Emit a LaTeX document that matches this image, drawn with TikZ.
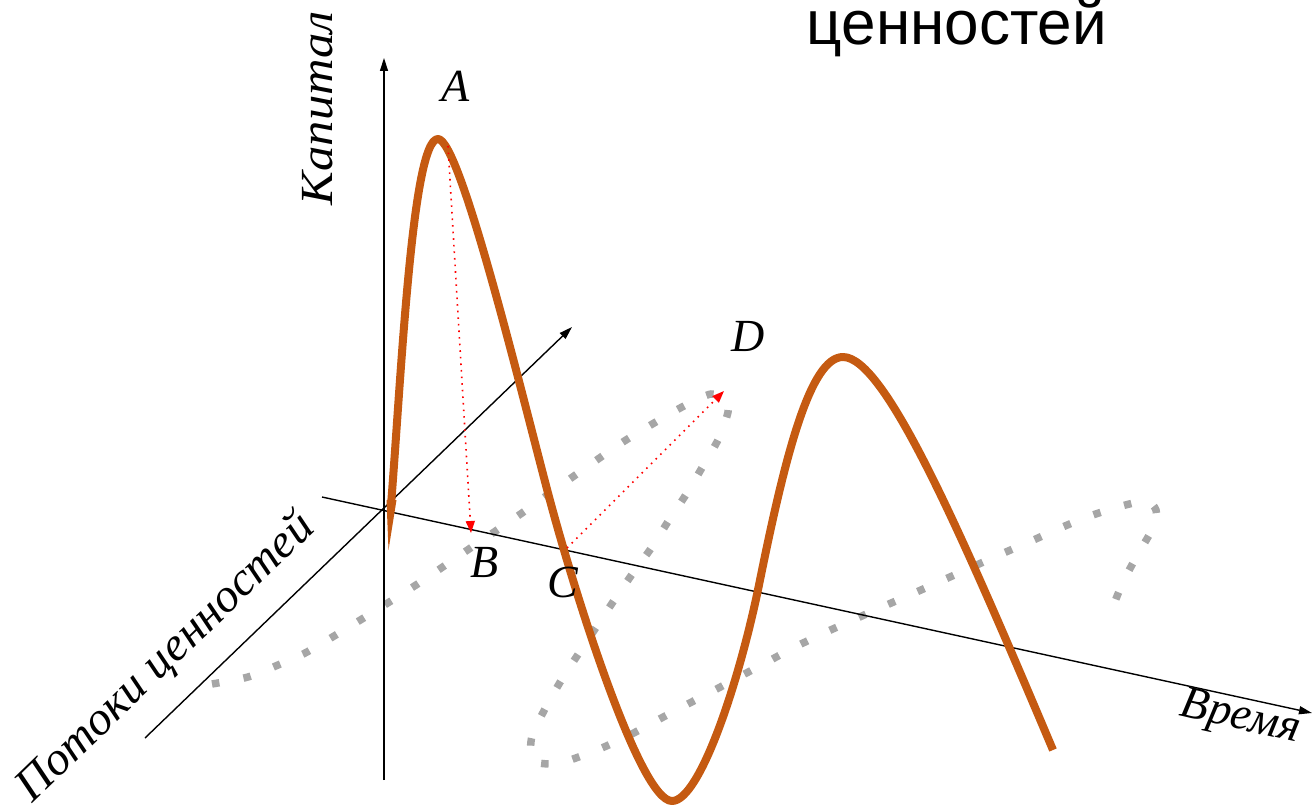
\documentclass[tikz,border=0pt]{standalone}
\usepackage{fontspec}
\setmainfont{Liberation Serif}
\newfontfamily\arialfont{Liberation Sans}
\usetikzlibrary{arrows.meta}
\definecolor{curveorange}{HTML}{C55A11}
\definecolor{dotgray}{HTML}{A6A6A6}
\tikzset{
  axisline/.style={line width=1.4pt, black, -{Triangle[length=13pt,width=8pt]}},
  redarrow/.style={red, line width=1.6pt, dash pattern=on 1.6pt off 5pt, -{Triangle[length=12pt,width=9pt]}},
  lbl/.style={font=\fontsize{46}{50}\selectfont\itshape, inner sep=0pt},
  capital/.style={curveorange, line width=8pt, line join=round},
  flow/.style={dotgray, line width=7.5pt, dash pattern=on 7.5pt off 24.5pt}
}
\begin{document}
\begin{tikzpicture}[x=1pt,y=-1pt]
\useasboundingbox (0,0) rectangle (1312,808);
% title fragment
\node[font=\arialfont\fontsize{62}{66}\selectfont, anchor=base, inner sep=0pt] (title) at (957,45) {ценностей};
% axis end points
\coordinate (vbot) at (384,780);
\coordinate (vtop) at (384,58);
\coordinate (tstart) at (322,497);
\coordinate (tend) at (1312,713);
\coordinate (dstart) at (145,738);
\coordinate (dend) at (572,327);
% gray dotted value-flow curve
\draw[flow] plot[smooth, tension=0.45] coordinates {
 (212,684) (248,677) (278,665) (307,652) (362,619) (416,585) (469,549) (522,513) (574,476) (626,440) (682,407) (711,394) (726,400)
 (728,412) (719,438) (703,466) (687,493) (669,520) (652,547) (633,573) (615,599) (597,626) (579,653) (562,679) (546,707) (532,736) (532,760)
 (550,764) (567,761) (597,750) (626,737) (654,722) (682,707) (711,692) (739,677) (767,662) (795,647) (824,633) (853,620) (882,607) (912,594)
 (941,581) (970,568) (999,555) (1029,542) (1058,529) (1087,517) (1118,507) (1146,501) (1156,510) (1154,526) (1138,554) (1123,582) (1110,614)};
% axes
\draw[axisline] (vbot) -- (vtop);
\draw[axisline] (tstart) -- (tend);
\draw[axisline] (dstart) -- (dend);
% orange capital curve
\fill[curveorange] (386.5,500) -- (396.5,500) -- (388.5,550) -- cycle;
\draw[capital] (391,505) .. controls (401,380) and (412,139) .. (438,139)
  .. controls (460,139) and (521,391) .. (548,493)
  .. controls (575,595) and (640,801) .. (672,801)
  .. controls (700,801) and (740,680) .. (760,580)
  .. controls (785,457) and (810,357) .. (843,357)
  .. controls (885,357) and (960,530) .. (1053,750);
% red projection arrows
\coordinate (Apt) at (448,146);
\coordinate (Bpt) at (471,533);
\coordinate (Cpt) at (567,548);
\coordinate (Dpt) at (724,391);
\draw[redarrow] (Apt) -- (Bpt);
\draw[redarrow] (Cpt) -- (Dpt);
% labels
\node[lbl] (A) at (456,86) {A};
\node[lbl] (B) at (485,563) {B};
\node[lbl] (C) at (563,582) {C};
\node[lbl] (D) at (748,336) {D};
\node[lbl, rotate=90] (kap) at (318,108) {\scalebox{1.1}[1]{Капитал}};
\node[lbl, rotate=-12.5] (time) at (1240,719) {Время};
\node[lbl, rotate=44] (flows) at (166,658) {\fontsize{47}{50}\selectfont\scalebox{1.02}[1]{Потоки ценностей}};
\end{tikzpicture}
\end{document}
